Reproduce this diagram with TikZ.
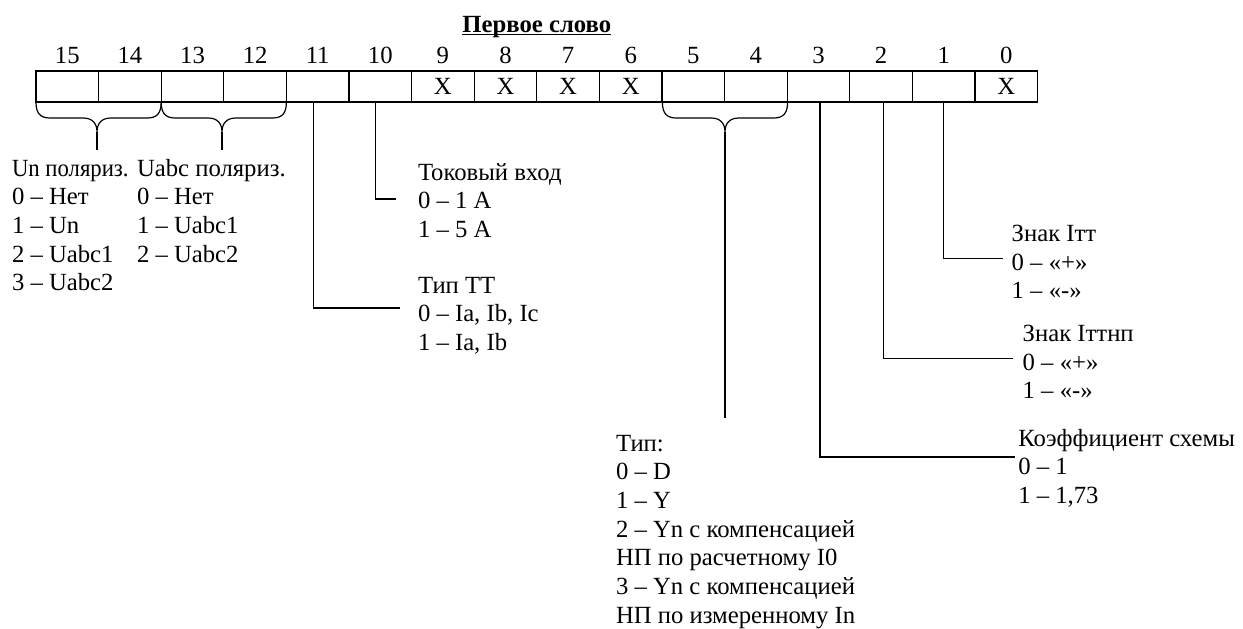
\documentclass[tikz,border=0pt]{standalone}
\usepackage{fontspec}
\usepackage{graphicx}
\setmainfont{Liberation Serif}
\usetikzlibrary{calc}
\newcommand\lbl[1]{\begin{tabular}[t]{@{}l@{}}#1\end{tabular}}
\newcommand\bitbrace[3]{%
  \draw (#1,102) .. controls (#1,113) and (#1+4,118) .. (#1+14,118) -- (#3-14,118)
    .. controls (#3-5,118) and (#3,123) .. (#3,132)
    .. controls (#3,123) and (#3+5,118) .. (#3+14,118) -- (#2-14,118)
    .. controls (#2-4,118) and (#2,113) .. (#2,102);}
\begin{document}
\begin{tikzpicture}[x=0.5pt,y=-0.5pt, line width=0.6pt,
  every node/.style={inner sep=0pt, outer sep=0pt, font=\fontsize{12.35}{14.35}\selectfont},
  cell/.style={draw, line width=0.6pt, minimum width=31.3pt, minimum height=15.5pt},
  lab/.style={anchor=base west},
  conn/.style={line width=0.6pt}]
\useasboundingbox (0,0) rectangle (1243,628);

% title
\node[anchor=base, font=\fontsize{12.35}{14.35}\selectfont\bfseries] (title) at (536.8,32.3) {Первое слово};
\draw[line width=0.6pt] ([yshift=-1pt]title.base west) -- ([yshift=-1pt]title.base east);

% cells and bit numbers
\foreach \b in {0,...,15} {
  \pgfmathsetmacro\cx{36+(15-\b+0.5)*62.6}
  \node[cell] (c\b) at (\cx,86.5) {};
  \node[anchor=base] (n\b) at (\cx,63) {\b};
}
\foreach \b in {9,8,7,6,0} {
  \node (x\b) at (c\b) {X};
}

% braces
\bitbrace{36}{161.2}{97}
\bitbrace{161.2}{286.4}{222}
\bitbrace{662.4}{787.6}{725}
\coordinate (s1t) at (97,132);   \coordinate (s1b) at (97,150);
\coordinate (s2t) at (222,132);  \coordinate (s2b) at (222,150);
\coordinate (s3t) at (725,132);  \coordinate (s3b) at (725,418);
\draw[conn] (s1t) -- (s1b);
\draw[conn] (s2t) -- (s2b);
\draw[conn] (s3t) -- (s3b);

% labels
\node[lab] (unpol) at (12,176) {\lbl{\scalebox{0.92}[1]{Un поляриз.}\\0 – Нет\\1 – Un\\2 – Uabc1\\3 – Uabc2}};
\node[lab] (uabcpol) at (137,176) {\lbl{Uabc поляриз.\\0 – Нет\\1 – Uabc1\\2 – Uabc2}};
\node[lab] (tok) at (418,180) {\lbl{Токовый вход\\0 – 1 А\\1 – 5 А}};
\node[lab] (tiptt) at (418,293) {\lbl{Тип ТТ\\0 – Ia, Ib, Ic\\1 – Ia, Ib}};
\node[lab] (tip) at (616,451) {\lbl{Тип:\\0 – D\\1 – Y\\2 – Yn с компенсацией\\НП по расчетному I0\\3 – Yn с компенсацией\\НП по измеренному In}};
\node[lab] (znak1) at (1011.7,241.5) {\lbl{Знак Iтт\\0 – «+»\\1 – «-»}};
\node[lab] (znak2) at (1022.7,341.5) {\lbl{Знак Iттнп\\0 – «+»\\1 – «-»}};
\node[lab] (koef) at (1018.3,446) {\lbl{Коэффициент схемы\\0 – 1\\1 – 1,73}};

% connectors
\coordinate (k10) at (396,199);
\coordinate (k11) at (400,308);
\coordinate (k3) at (1015,457);
\coordinate (k2) at (1013,358.3);
\coordinate (k1) at (1003,258.3);
\draw[conn] ([xshift=-2.6pt]c10.south) |- (k10);
\draw[conn] ([xshift=-2.3pt]c11.south) |- (k11);
\draw[conn] ([xshift=0.7pt]c3.south) |- (k3);
\draw[conn] ([xshift=1pt]c2.south) |- (k2);
\draw[conn] ([xshift=-0.2pt]c1.south) |- (k1);
\end{tikzpicture}
\end{document}
